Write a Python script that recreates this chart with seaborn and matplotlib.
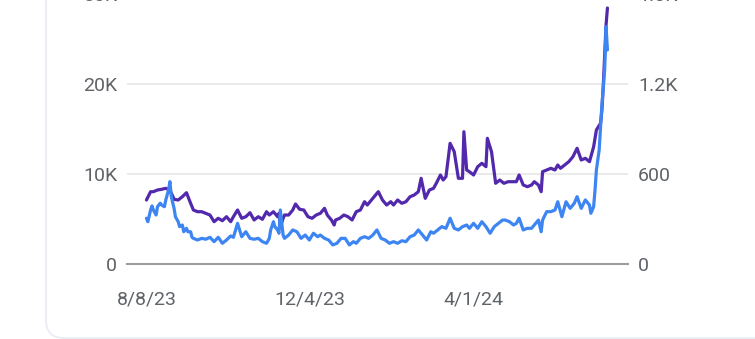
import matplotlib
matplotlib.use("Agg")
import matplotlib.pyplot as plt
import numpy as np
import pandas as pd
import seaborn as sns
from matplotlib.patches import FancyBboxPatch

# ---------------- data ----------------
start_date = "2023-08-08"

# days since start_date, and values (left axis, purple series)
purple_days = [0, 3, 5, 8, 11, 14, 17, 20, 23, 26, 29, 32, 34, 37, 40, 43, 46, 49, 52, 55,
               58, 61, 63, 66, 69, 72, 75, 78, 81, 84, 87, 89, 92, 95, 96, 97, 99, 100, 103, 106,
               108, 111, 114, 117, 120, 123, 126, 129, 131, 134, 136, 137, 140, 143, 146, 149, 152, 155, 158, 160,
               163, 166, 168, 171, 174, 177, 179, 182, 185, 188, 191, 194, 197, 199, 202, 205, 208, 210, 213, 215,
               217, 220, 223, 226, 229, 230, 232, 234, 237, 240, 243, 246, 247, 250, 253, 256, 259, 262, 266, 268,
               270, 273, 276, 279, 281, 284, 286, 287, 290, 293, 296, 298, 300, 303, 306, 309, 312, 315, 318, 321,
               324, 326, 329, 330, 331, 332, 333, 334]
purple_values = [7111, 8033, 8033, 8222, 8300, 8411, 8222, 7189, 7111, 7478, 7922, 6744, 6000, 5811, 5811, 5633, 5444, 4700, 5078, 4811,
                 5256, 4700, 5256, 6000, 5078, 5256, 5700, 4889, 5256, 4967, 5811, 5444, 5811, 5256, 5633, 4111, 5078, 5444, 5444, 6000,
                 6667, 6078, 6000, 5256, 5078, 5444, 5633, 6189, 5444, 4889, 4333, 4889, 5078, 5444, 5256, 4889, 5811, 6000, 6922, 6556,
                 7111, 7667, 8033, 7111, 6556, 6922, 6556, 7111, 6744, 6922, 7478, 7667, 8033, 9522, 7300, 8222, 8411, 8967, 9889, 9333,
                 9700, 13411, 12478, 9522, 9522, 14700, 10444, 10256, 9889, 10811, 11189, 10811, 13967, 12478, 8967, 9333, 8967, 9144, 9144, 9144,
                 9889, 8778, 8589, 8778, 9144, 8778, 8033, 10256, 10444, 10633, 10444, 11000, 10633, 11000, 11367, 11922, 12856, 11556, 11744, 11367,
                 13033, 14889, 15633, 17111, 19889, 23222, 26556, 28444]

# days since start_date, and values (right axis, blue series)
blue_days = [0, 1, 3, 4, 5, 7, 8, 10, 11, 13, 14, 16, 17, 18, 20, 21, 23, 24, 26, 27,
             29, 30, 32, 33, 34, 37, 40, 43, 46, 49, 52, 55, 58, 61, 63, 66, 69, 72, 75, 78,
             81, 84, 87, 89, 90, 92, 93, 95, 96, 97, 99, 100, 103, 106, 109, 112, 115, 118, 121, 124,
             126, 129, 132, 135, 138, 141, 144, 147, 150, 152, 155, 158, 161, 164, 167, 170, 173, 176, 179, 182,
             185, 188, 191, 194, 197, 200, 203, 206, 208, 211, 214, 217, 220, 223, 226, 229, 232, 234, 237, 240,
             243, 246, 249, 252, 255, 258, 260, 263, 266, 268, 270, 273, 276, 279, 281, 284, 286, 287, 290, 293,
             296, 298, 301, 304, 307, 310, 312, 315, 318, 321, 322, 324, 325, 326, 328, 330, 332, 333, 334]
blue_values = [305, 282, 360, 387, 360, 327, 382, 405, 393, 382, 427, 493, 549, 449, 371, 315, 282, 249, 260, 215,
               238, 215, 215, 178, 171, 160, 171, 165, 178, 149, 178, 138, 160, 187, 178, 271, 182, 215, 171, 165,
               171, 149, 138, 171, 227, 282, 249, 227, 205, 360, 193, 171, 193, 227, 215, 171, 193, 160, 205, 182,
               193, 171, 160, 127, 138, 171, 171, 127, 149, 138, 171, 182, 171, 193, 227, 171, 160, 138, 149, 138,
               155, 149, 182, 193, 227, 193, 160, 215, 205, 227, 249, 238, 305, 238, 227, 249, 260, 238, 271, 238,
               282, 249, 205, 249, 271, 293, 293, 282, 260, 271, 305, 227, 238, 238, 260, 293, 215, 293, 349, 349,
               360, 415, 315, 415, 371, 405, 449, 371, 427, 393, 338, 382, 493, 627, 760, 1060, 1293, 1582, 1427]

left_ticks = [0, 10000, 20000, 30000]
left_labels = ["0", "10K", "20K", "30K"]
right_ticks = [0, 600, 1200, 1800]
right_labels = ["0", "600", "1.2K", "1.8K"]
x_tick_dates = ["2023-08-08", "2023-12-04", "2024-04-01"]
x_tick_labels = ["8/8/23", "12/4/23", "4/1/24"]

# ---------------- style ----------------
sns.set_theme(style="white")
plt.rcParams['font.family'] = ['Roboto', 'DejaVu Sans']

PURPLE = "#5228ad"
BLUE = "#3d85f2"
TEXT = "#5f6368"
GRID = "#e6e6e6"
BASE = "#9e9e9e"

t0 = pd.Timestamp(start_date)
df_p = pd.DataFrame({"date": t0 + pd.to_timedelta(purple_days, unit="D"), "value": purple_values})
df_b = pd.DataFrame({"date": t0 + pd.to_timedelta(blue_days, unit="D"), "value": blue_values})

fig = plt.figure(figsize=(7.55, 3.39), dpi=100)
fig.patch.set_facecolor("white")

# card background (pixel units)
bg = fig.add_axes([0, 0, 1, 1], zorder=-5)
bg.set_xlim(0, 755)
bg.set_ylim(339, 0)
bg.axis("off")
card = FancyBboxPatch((46, -40), 760, 378, boxstyle="round,pad=0,rounding_size=18",
                      facecolor="white", edgecolor="#e9edf3", linewidth=1.3)
bg.add_patch(card)

ax = fig.add_axes([127 / 755, 75 / 339, 501 / 755, 270 / 339])
ax.set_facecolor("none")
ax2 = ax.twinx()

sns.lineplot(data=df_p, x="date", y="value", ax=ax, color=PURPLE, linewidth=2.3)
sns.lineplot(data=df_b, x="date", y="value", ax=ax2, color=BLUE, linewidth=2.3)

ax.set_ylim(0, 30000)
ax2.set_ylim(0, 1800)
x0 = t0 + pd.Timedelta(days=-14.1)
x1 = t0 + pd.Timedelta(days=348.9)
ax.set_xlim(x0, x1)

ax.set_yticks(left_ticks)
ax.set_yticklabels(left_labels)
ax2.set_yticks(right_ticks)
ax2.set_yticklabels(right_labels)
ax.set_xticks(pd.to_datetime(x_tick_dates))
ax.set_xticklabels(x_tick_labels)

for a in (ax, ax2):
    a.set_xlabel("")
    a.set_ylabel("")
    for s in a.spines.values():
        s.set_visible(False)

ax.grid(axis="y", color=GRID, linewidth=1.2)
ax.grid(axis="x", visible=False)
ax2.grid(False)
ax.set_axisbelow(True)
ax.spines["bottom"].set_visible(True)
ax.spines["bottom"].set_color(BASE)
ax.spines["bottom"].set_linewidth(1.5)

ax.tick_params(axis="y", length=0, pad=7.2, labelsize=14, labelcolor=TEXT)
ax2.tick_params(axis="y", length=0, pad=7.2, labelsize=14, labelcolor=TEXT)
ax.tick_params(axis="x", length=0, pad=19, labelsize=14, labelcolor=TEXT)

fig.savefig("out.png", dpi=100, facecolor="white")
